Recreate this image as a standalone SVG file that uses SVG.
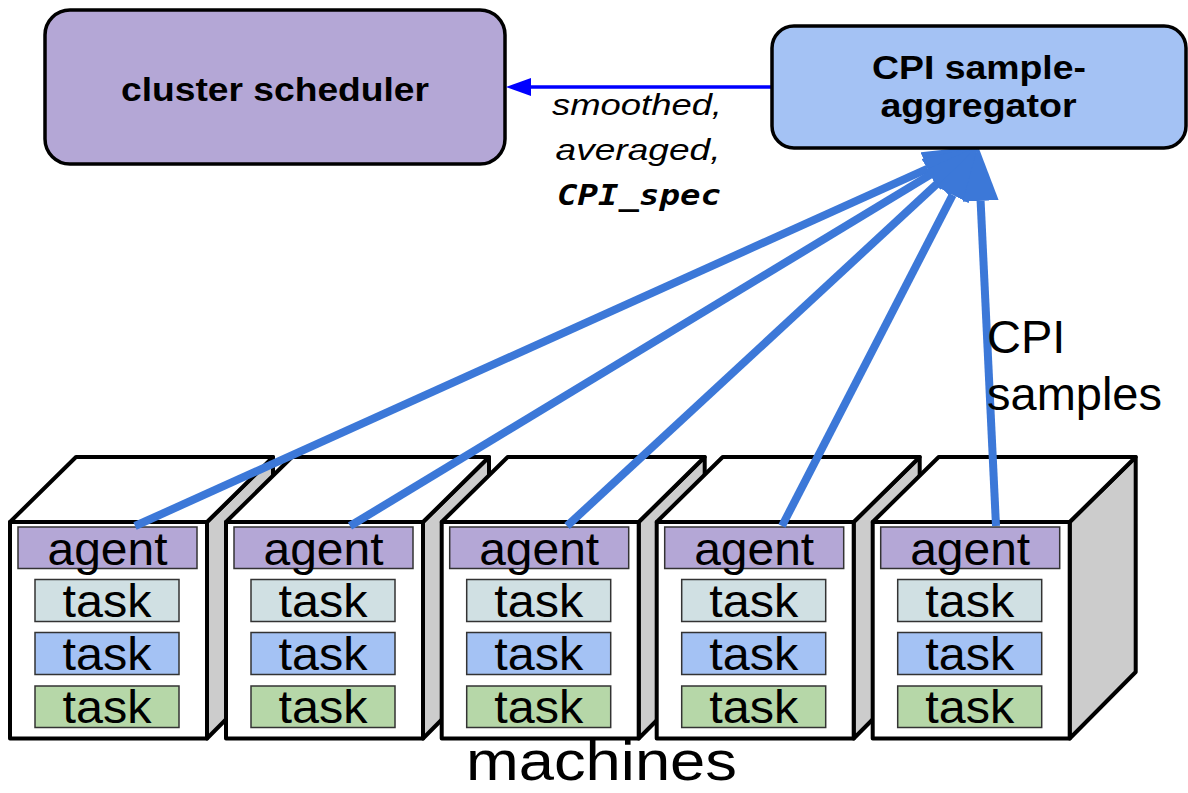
<svg xmlns="http://www.w3.org/2000/svg" width="1188" height="793" viewBox="0 0 1188 793">
  <style>
    .box { stroke: #000; stroke-width: 3.5; }
    .sched { fill: #b4a7d6; }
    .agg { fill: #a4c2f4; }
    .title { font-family: "Liberation Sans", Arial, sans-serif; font-weight: bold; font-size: 33px; fill: #000; text-anchor: middle; }
    .lbl { font-family: "Liberation Sans", Arial, sans-serif; font-style: italic; font-size: 30px; fill: #000; text-anchor: middle; }
    .mono { font-family: "DejaVu Sans Mono", "Liberation Mono", monospace; font-style: italic; font-weight: bold; font-size: 29px; fill: #000; text-anchor: middle; }
    .big { font-family: "Liberation Sans", Arial, sans-serif; font-size: 46px; fill: #000; }
    .cube { stroke: #000; stroke-width: 4; stroke-linejoin: round; }
    .front { fill: #fff; }
    .top { fill: #fff; }
    .side { fill: #cccccc; }
    .bar { stroke: #333; stroke-width: 1.5; }
    .agent { fill: #b4a7d6; }
    .t1 { fill: #d0e0e3; }
    .t2 { fill: #a4c2f4; }
    .t3 { fill: #b6d7a8; }
    .bt { font-family: "Liberation Sans", Arial, sans-serif; font-size: 46px; fill: #000; text-anchor: middle; }
    .feed { stroke: #3c78d8; stroke-width: 8; fill: none; marker-end: url(#bigHead); }
    .out { stroke: #0000ff; stroke-width: 3.5; fill: none; marker-end: url(#smallHead); }
  </style>
  <defs>
    <marker id="bigHead" markerUnits="userSpaceOnUse" viewBox="0 0 55 36" markerWidth="55" markerHeight="36" refX="0" refY="18" orient="auto">
      <path d="M0,0 L55,18 L0,36 z" fill="#3c78d8"/>
    </marker>
    <marker id="smallHead" markerUnits="userSpaceOnUse" viewBox="0 0 25 18" markerWidth="25" markerHeight="18" refX="0" refY="9" orient="auto">
      <path d="M0,0 L25,9 L0,18 z" fill="#0000ff"/>
    </marker>
    <g id="machineShape">
      <polygon class="cube side" points="197,522 263,457 263,672 197,738.5"/>
      <polygon class="cube top" points="0,522 66,457 263,457 197,522"/>
      <rect class="cube front" x="0" y="522" width="197" height="216.5"/>
      <rect class="bar agent" x="8" y="527" width="179" height="41.5"/>
      <rect class="bar t1" x="25" y="579.5" width="144" height="42"/>
      <rect class="bar t2" x="25" y="632.5" width="144" height="42"/>
      <rect class="bar t3" x="25" y="686" width="144" height="41.5"/>
      <text class="bt" x="97.5" y="565" textLength="120" lengthAdjust="spacingAndGlyphs">agent</text>
      <text class="bt" x="97" y="617" textLength="89" lengthAdjust="spacingAndGlyphs">task</text>
      <text class="bt" x="97" y="670" textLength="89" lengthAdjust="spacingAndGlyphs">task</text>
      <text class="bt" x="97" y="723" textLength="89" lengthAdjust="spacingAndGlyphs">task</text>
    </g>
  </defs>

  <g id="cluster-scheduler">
    <rect class="box sched" x="45" y="10" width="460" height="154" rx="25" ry="25"/>
    <text class="title" x="275" y="101" textLength="308" lengthAdjust="spacingAndGlyphs">cluster scheduler</text>
  </g>

  <g id="machine1" transform="translate(10,0)"><use href="#machineShape"/></g>
  <g id="machine2" transform="translate(226,0)"><use href="#machineShape"/></g>
  <g id="machine3" transform="translate(441.7,0)"><use href="#machineShape"/></g>
  <g id="machine4" transform="translate(656.7,0)"><use href="#machineShape"/></g>
  <g id="machine5" transform="translate(872.7,0)"><use href="#machineShape"/></g>

  <g id="connectors">
    <line class="feed" x1="135" y1="526" x2="927.8" y2="168.6"/>
    <line class="feed" x1="350" y1="526" x2="930.9" y2="174.4"/>
    <line class="feed" x1="567" y1="526" x2="937.6" y2="183.3"/>
    <line class="feed" x1="782" y1="526" x2="952.7" y2="194.9"/>
    <line class="feed" x1="996" y1="526" x2="980.6" y2="200.9"/>
    <line class="out" x1="772" y1="87" x2="531" y2="87"/>
  </g>

  <g id="cpi-aggregator">
    <rect class="box agg" x="772" y="26" width="414" height="122" rx="22" ry="22"/>
    <text class="title" x="979" y="78.5" textLength="214" lengthAdjust="spacingAndGlyphs">CPI sample-</text>
    <text class="title" x="978.5" y="117" textLength="196" lengthAdjust="spacingAndGlyphs">aggregator</text>
  </g>

  <g id="edge-label">
    <text class="lbl" x="637" y="115" textLength="170" lengthAdjust="spacingAndGlyphs">smoothed,</text>
    <text class="lbl" x="638" y="160" textLength="165" lengthAdjust="spacingAndGlyphs">averaged,</text>
    <text class="mono" x="639" y="205" textLength="164" lengthAdjust="spacingAndGlyphs">CPI_spec</text>
  </g>

  <g id="samples-label">
    <text class="big" x="987" y="353" style="font-size:47px">CPI</text>
    <text class="big" x="987" y="410" style="font-size:47px">samples</text>
  </g>

  <g id="machines-label">
    <text class="big" x="601.5" y="780" style="font-size:56px;text-anchor:middle" textLength="271" lengthAdjust="spacingAndGlyphs">machines</text>
  </g>
</svg>
